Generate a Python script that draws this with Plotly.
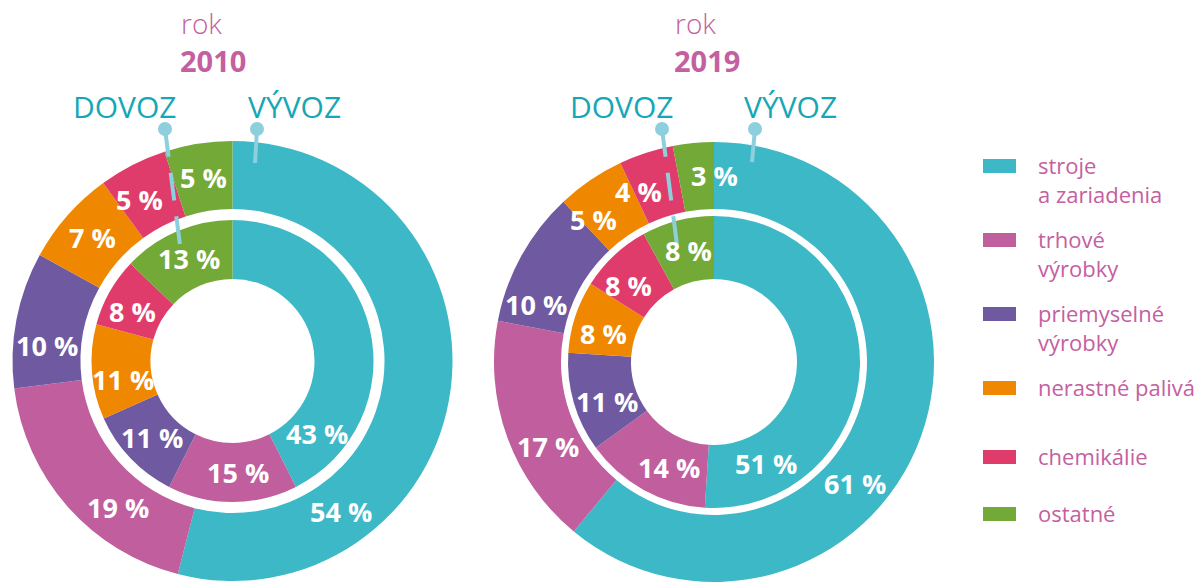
import math
import plotly.graph_objects as go

# ---- data -------------------------------------------------------------
categories = [
    "stroje a zariadenia",
    "trhové výrobky",
    "priemyselné výrobky",
    "nerastné palivá",
    "chemikálie",
    "ostatné",
]
legend_labels = [
    "stroje<br>a zariadenia",
    "trhové<br>výrobky",
    "priemyselné<br>výrobky",
    "nerastné palivá",
    "chemikálie",
    "ostatné",
]
years = [2010, 2019]
export_2010 = [54, 19, 10, 7, 5, 5]   # VÝVOZ (outer ring)
import_2010 = [43, 15, 11, 11, 8, 13]  # DOVOZ (inner ring)
export_2019 = [61, 17, 10, 5, 4, 3]
import_2019 = [51, 14, 11, 8, 8, 8]

# ---- styling ----------------------------------------------------------
colors = ["#3db8c7", "#c05e9e", "#6f5aa2", "#f08700", "#e03c6b", "#73a936"]
TITLE_PINK = "#c4609f"
TEAL_TEXT = "#14a7b7"
PIN_BLUE = "#8dcfdc"
FONT = "Open Sans"

W, H = 1201, 582

# donut geometry in pixels
GEOM = {
    2010: dict(cx=232.5, cy=361, r_out=220, r_gap=152, r_in=141, r_hole=82,
               title_x=179, dovoz_x=125, vyvoz_x=294,
               pin_dovoz=((165, 129), (180, 245)), pin_vyvoz=((257, 129), (255, 163))),
    2019: dict(cx=714, cy=362, r_out=220, r_gap=153, r_in=146, r_hole=83,
               title_x=673, dovoz_x=622, vyvoz_x=790,
               pin_dovoz=((662, 129), (677, 245)), pin_vyvoz=((755, 129), (752, 162))),
}

# angular nudges (degrees) applied to the slice mid-angle for label placement
NUDGE = {
    (2010, "out"): [47, -10.6, -6, 0, -3, 0],
    (2010, "in"): [54, -3, 0, -5, -3, 0],
    (2019, "out"): [21, -7, -11, -6, -6, 5.4],
    (2019, "in"): [61, -5.5, -4, -3.7, -5, 1.5],
}

LEGEND_Y = [166, 240, 314, 388, 457, 514]
LEGEND_SWATCH_X = (983, 1016)
LEGEND_TEXT_X = 1036


def px(x):
    return min(max(x / W, 0.0), 1.0)


def py(y):
    return min(max(1 - y / H, 0.0), 1.0)


series = {
    2010: {"out": export_2010, "in": import_2010},
    2019: {"out": export_2019, "in": import_2019},
}

fig = go.Figure()
annotations = []
shapes = []

for year in years:
    g = GEOM[year]
    cx, cy = g["cx"], g["cy"]
    rings = {
        "out": (g["r_out"], g["r_gap"] / g["r_out"], (g["r_out"] + g["r_gap"]) / 2),
        "in": (g["r_in"], g["r_hole"] / g["r_in"], (g["r_in"] + g["r_hole"]) / 2),
    }
    for ring, (r, hole, r_label) in rings.items():
        values = series[year][ring]
        fig.add_trace(go.Pie(
            labels=categories,
            values=values,
            hole=hole,
            sort=False,
            direction="clockwise",
            rotation=0,
            marker=dict(colors=colors, line=dict(width=0)),
            textinfo="none",
            hoverinfo="label+value",
            showlegend=False,
            domain=dict(x=[px(cx - r), px(cx + r)], y=[py(cy + r), py(cy - r)]),
        ))
        # value labels placed along each slice
        total = sum(values)
        cum = 0
        for i, v in enumerate(values):
            mid = (cum + v / 2) / total * 360
            cum += v
            ang = math.radians(mid + NUDGE[(year, ring)][i])
            lx = cx + r_label * math.sin(ang)
            ly = cy - r_label * math.cos(ang)
            annotations.append(dict(
                x=px(lx), y=py(ly), xref="paper", yref="paper",
                text=f"{v} %", showarrow=False,
                xanchor="center", yanchor="middle",
                font=dict(family=FONT, size=27, color="white", weight="bold"),
            ))

    # headings
    annotations.append(dict(
        x=px(g["title_x"]), y=py(23), xref="paper", yref="paper", text="rok",
        showarrow=False, xanchor="left", yanchor="middle",
        font=dict(family=FONT, size=28, color=TITLE_PINK, weight=300),
    ))
    annotations.append(dict(
        x=px(g["title_x"] - 1), y=py(61), xref="paper", yref="paper", text=str(year),
        showarrow=False, xanchor="left", yanchor="middle",
        font=dict(family=FONT, size=29, color=TITLE_PINK, weight="bold"),
    ))
    for label, lx in (("DOVOZ", g["dovoz_x"]), ("VÝVOZ", g["vyvoz_x"])):
        annotations.append(dict(
            x=px(lx), y=py(106), xref="paper", yref="paper", text=label,
            showarrow=False, xanchor="center", yanchor="middle",
            font=dict(family=FONT, size=30, color=TEAL_TEXT),
        ))

    # pins from the ring names to the rings
    for key, dash in (("pin_dovoz", "28px,16px"), ("pin_vyvoz", "solid")):
        (x0, y0), (x1, y1) = g[key]
        shapes.append(dict(
            type="line", xref="paper", yref="paper",
            x0=px(x0), y0=py(y0), x1=px(x1), y1=py(y1),
            line=dict(color=PIN_BLUE, width=4, dash=dash),
        ))
        rr = 7
        shapes.append(dict(
            type="circle", xref="paper", yref="paper",
            x0=px(x0 - rr), x1=px(x0 + rr), y0=py(y0 + rr), y1=py(y0 - rr),
            fillcolor=PIN_BLUE, line=dict(width=0),
        ))

# legend
for color, label, ly in zip(colors, legend_labels, LEGEND_Y):
    shapes.append(dict(
        type="rect", xref="paper", yref="paper",
        x0=px(LEGEND_SWATCH_X[0]), x1=px(LEGEND_SWATCH_X[1]),
        y0=py(ly + 7), y1=py(ly - 7),
        fillcolor=color, line=dict(width=0),
    ))
    annotations.append(dict(
        x=px(LEGEND_TEXT_X), y=py(ly - 18), xref="paper", yref="paper",
        text=label, showarrow=False, xanchor="left", yanchor="top", align="left",
        font=dict(family=FONT, size=22, color=TITLE_PINK),
    ))

fig.update_layout(
    width=W, height=H,
    margin=dict(l=0, r=0, t=0, b=0, pad=0),
    paper_bgcolor="white", plot_bgcolor="white",
    annotations=annotations, shapes=shapes,
    showlegend=False,
)

fig.write_html("out.html")
